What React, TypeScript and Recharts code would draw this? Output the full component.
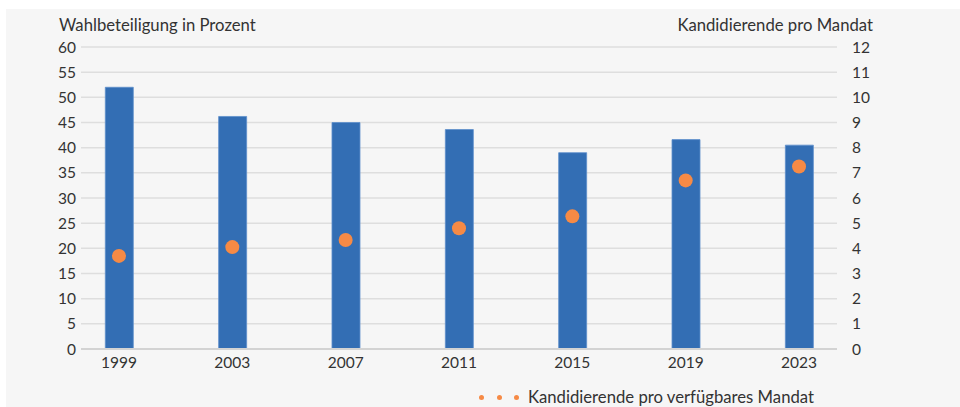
import {
  Bar,
  CartesianGrid,
  ComposedChart,
  Legend,
  Scatter,
  XAxis,
  YAxis,
} from "recharts";

const years = [1999, 2003, 2007, 2011, 2015, 2019, 2023];
const turnout = [52.0, 46.2, 45.0, 43.6, 39.0, 41.6, 40.5];
const candidatesPerSeat = [3.7, 4.05, 4.33, 4.8, 5.27, 6.7, 7.25];

const leftTicks = [0, 5, 10, 15, 20, 25, 30, 35, 40, 45, 50, 55, 60];
const rightTicks = [0, 1, 2, 3, 4, 5, 6, 7, 8, 9, 10, 11, 12];

const FONT = "Lato, 'Open Sans', sans-serif";
const TEXT = "#333333";
const BAR = "#336eb4";
const DOT = "#f68a45";

const data = years.map((year, i) => ({
  year,
  turnout: turnout[i],
  candidates: candidatesPerSeat[i],
}));

const LegendContent = () => (
  <div style={{ height: 28, position: "relative", fontFamily: FONT }}>
    <div
      style={{
        position: "absolute",
        left: 473,
        top: 9,
        display: "flex",
        alignItems: "center",
        color: TEXT,
        fontSize: 16.7,
        lineHeight: "18px",
        whiteSpace: "nowrap",
      }}
    >
      {[0, 1, 2].map((k) => (
        <span
          key={k}
          style={{
            width: 5,
            height: 5,
            borderRadius: "50%",
            background: DOT,
            marginRight: k < 2 ? 12.5 : 9,
            display: "inline-block",
          }}
        />
      ))}
      <span>Kandidierende pro verfügbares Mandat</span>
    </div>
  </div>
);

export default function App() {
  return (
    <div
      style={{
        position: "absolute",
        left: 0,
        top: 0,
        width: 960,
        height: 407,
        background: "#ffffff",
        overflow: "hidden",
      }}
    >
      <div
        style={{
          position: "absolute",
          left: 6,
          top: 9,
          width: 954,
          height: 398,
          background: "#f6f6f6",
          fontFamily: FONT,
        }}
      >
        <div
          style={{
            position: "absolute",
            left: 53,
            top: 6,
            fontSize: 16.7,
            color: TEXT,
            whiteSpace: "nowrap",
          }}
        >
          Wahlbeteiligung in Prozent
        </div>
        <div
          style={{
            position: "absolute",
            right: 954 - 867,
            top: 6,
            fontSize: 16.7,
            color: TEXT,
            whiteSpace: "nowrap",
          }}
        >
          Kandidierende pro Mandat
        </div>
        <ComposedChart
          width={954}
          height={398}
          data={data}
          margin={{ top: 38, right: 0, bottom: 0, left: 0 }}
        >
          <CartesianGrid
            vertical={false}
            stroke="#dedede"
            strokeWidth={1.5}
            yAxisId="left"
          />
          <XAxis
            dataKey="year"
            type="number"
            domain={[1997.66, 2024.34]}
            ticks={years}
            allowDataOverflow
            height={30}
            tickLine={false}
            axisLine={{ stroke: "#d3d3d3", strokeWidth: 2 }}
            tick={{ fill: TEXT, fontSize: 15.5, fontFamily: FONT }}
            tickFormatter={(v: number) => String(v)}
          />
          <YAxis
            yAxisId="left"
            orientation="left"
            width={75}
            domain={[0, 60]}
            ticks={leftTicks}
            interval={0}
            tickLine={false}
            axisLine={false}
            tickSize={3}
            tick={{ fill: TEXT, fontSize: 15.5, fontFamily: FONT }}
          />
          <YAxis
            yAxisId="right"
            orientation="right"
            width={123}
            domain={[0, 12]}
            ticks={rightTicks}
            interval={0}
            tickLine={false}
            axisLine={false}
            tickSize={6}
            tickMargin={9}
            tick={{ fill: TEXT, fontSize: 15.5, fontFamily: FONT, textAnchor: "start" }}
          />
          <Legend
            verticalAlign="bottom"
            align="left"
            height={28}
            wrapperStyle={{ left: 0, width: 954 }}
            content={() => <LegendContent />}
          />
          <Bar
            yAxisId="left"
            dataKey="turnout"
            name="Wahlbeteiligung"
            fill={BAR}
            stroke="#5e8fcb"
            strokeWidth={0.8}
            barSize={28}
            isAnimationActive={false}
            legendType="none"
          />
          <Scatter
            yAxisId="right"
            dataKey="candidates"
            name="Kandidierende pro verfügbares Mandat"
            fill={DOT}
            isAnimationActive={false}
            shape={(p: any) => <circle cx={p.cx} cy={p.cy} r={7} fill={DOT} />}
          />
        </ComposedChart>
      </div>
    </div>
  );
}
